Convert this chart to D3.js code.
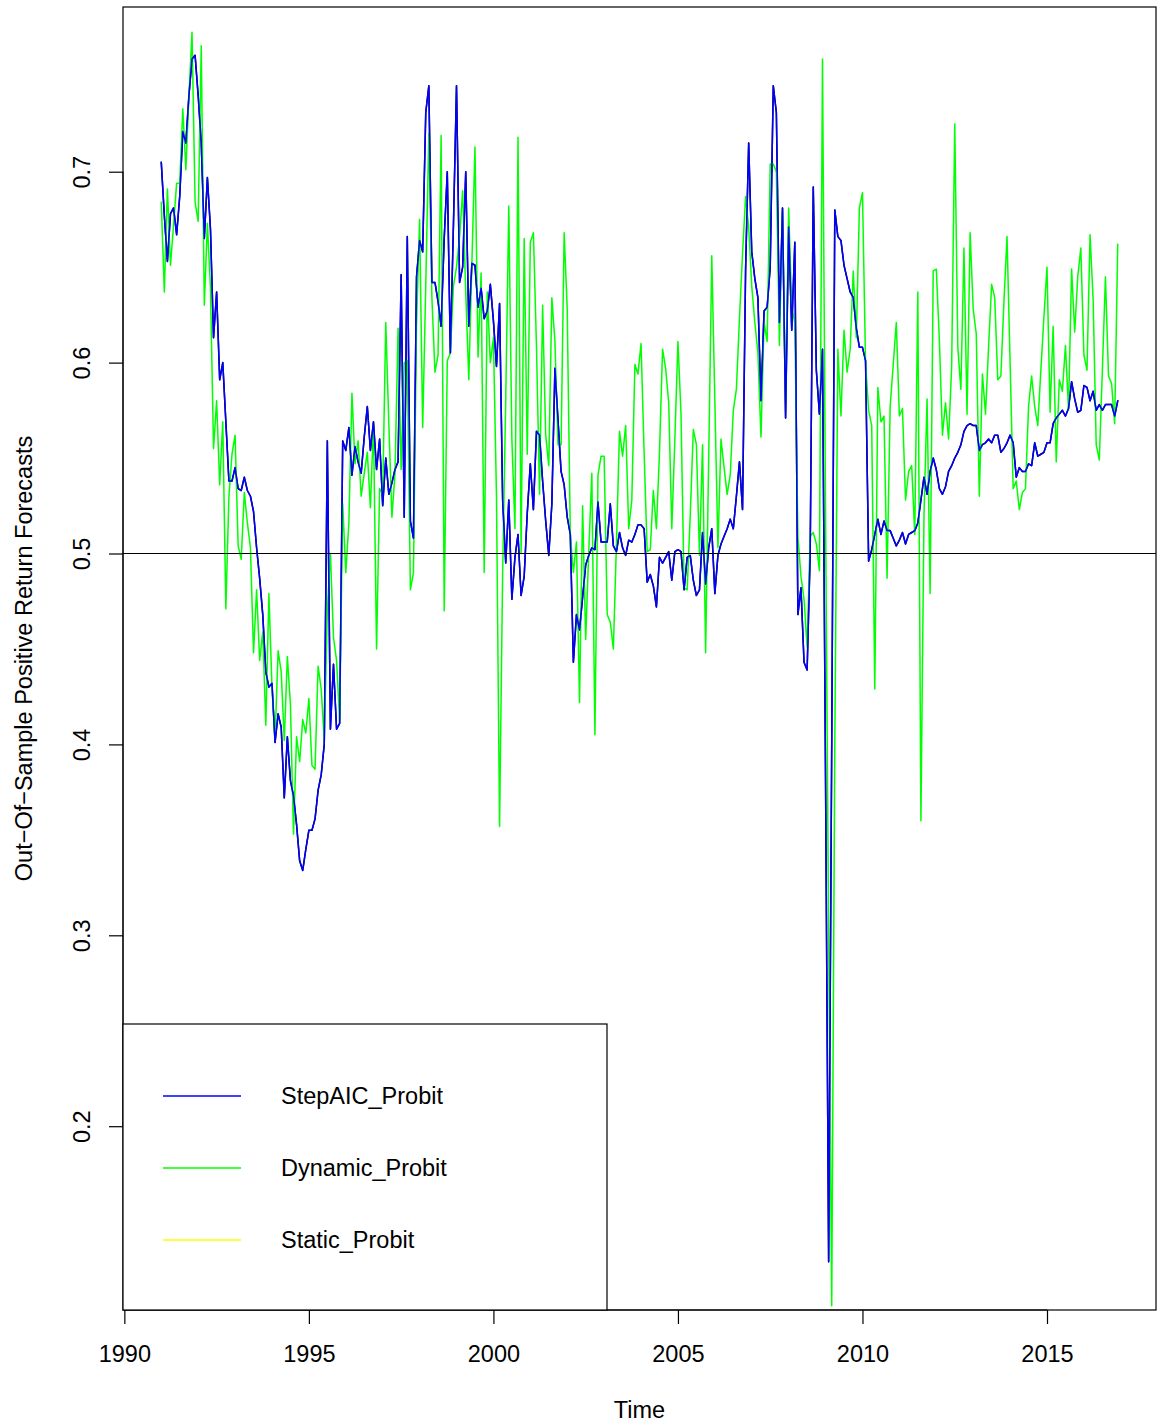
<!DOCTYPE html>
<html>
<head>
<meta charset="utf-8">
<script src="https://cdn.jsdelivr.net/npm/d3@7"></script>
<style>
  html, body { margin: 0; padding: 0; background: #ffffff; }
  svg { display: block; }
  text { font-family: "Liberation Sans", Arial, Helvetica, sans-serif; fill: #000; }
</style>
</head>
<body>
<svg id="chart" width="1160" height="1425"></svg>
<script>
// Monthly out-of-sample forecasts, Jan 1991 .. Dec 2016 (12 values per row = one year)
const startYear = 1991;
const perYear = 12;

const stepAicProbit = [
  0.705,0.677,0.653,0.678,0.681,0.667,0.687,0.721,0.715,0.740,0.759,0.761,
  0.740,0.715,0.665,0.697,0.670,0.613,0.637,0.591,0.600,0.569,0.538,0.538,
  0.545,0.534,0.533,0.540,0.533,0.530,0.522,0.503,0.487,0.468,0.438,0.430,
  0.432,0.401,0.416,0.409,0.372,0.404,0.381,0.373,0.358,0.339,0.334,0.345,
  0.355,0.355,0.361,0.376,0.384,0.400,0.559,0.408,0.442,0.408,0.411,0.559,
  0.554,0.566,0.541,0.556,0.548,0.542,0.561,0.577,0.554,0.569,0.544,0.560,
  0.525,0.550,0.531,0.537,0.544,0.548,0.646,0.519,0.666,0.517,0.508,0.645,
  0.664,0.658,0.731,0.745,0.642,0.642,0.632,0.619,0.665,0.700,0.605,0.672,
  0.745,0.642,0.650,0.700,0.619,0.652,0.651,0.629,0.639,0.623,0.627,0.641,
  0.622,0.598,0.631,0.528,0.495,0.528,0.476,0.498,0.510,0.478,0.488,0.521,
  0.547,0.523,0.564,0.562,0.538,0.517,0.499,0.526,0.597,0.570,0.543,0.536,
  0.519,0.510,0.443,0.468,0.460,0.477,0.494,0.499,0.503,0.502,0.527,0.506,
  0.506,0.506,0.526,0.504,0.501,0.511,0.503,0.499,0.507,0.506,0.510,0.515,
  0.515,0.513,0.485,0.489,0.483,0.472,0.498,0.495,0.498,0.501,0.486,0.501,
  0.502,0.501,0.481,0.498,0.499,0.486,0.478,0.481,0.511,0.484,0.503,0.513,
  0.479,0.499,0.505,0.509,0.513,0.518,0.513,0.530,0.548,0.523,0.649,0.715,
  0.658,0.644,0.634,0.580,0.627,0.629,0.650,0.745,0.731,0.621,0.681,0.571,
  0.671,0.617,0.663,0.468,0.482,0.443,0.439,0.500,0.692,0.596,0.573,0.607,
  0.380,0.129,0.400,0.680,0.666,0.664,0.651,0.644,0.637,0.634,0.618,0.608,
  0.608,0.601,0.496,0.502,0.510,0.518,0.510,0.517,0.512,0.512,0.508,0.504,
  0.507,0.511,0.505,0.510,0.511,0.512,0.516,0.528,0.540,0.531,0.543,0.550,
  0.544,0.534,0.531,0.535,0.543,0.546,0.550,0.553,0.557,0.564,0.567,0.568,
  0.567,0.567,0.554,0.557,0.558,0.560,0.558,0.562,0.562,0.553,0.555,0.558,
  0.562,0.558,0.540,0.545,0.543,0.543,0.547,0.546,0.558,0.551,0.552,0.553,
  0.558,0.558,0.568,0.571,0.573,0.575,0.572,0.576,0.590,0.581,0.574,0.575,
  0.588,0.587,0.580,0.585,0.575,0.578,0.575,0.578,0.578,0.578,0.572,0.580
];

const dynamicProbit = [
  0.684,0.637,0.691,0.651,0.672,0.694,0.694,0.733,0.701,0.740,0.773,0.684,
  0.674,0.766,0.630,0.673,0.639,0.555,0.580,0.536,0.569,0.471,0.530,0.552,
  0.562,0.504,0.497,0.532,0.516,0.503,0.448,0.481,0.444,0.459,0.410,0.479,
  0.430,0.403,0.449,0.438,0.402,0.446,0.421,0.353,0.404,0.391,0.413,0.406,
  0.424,0.389,0.387,0.441,0.429,0.402,0.470,0.500,0.456,0.444,0.412,0.526,
  0.490,0.516,0.584,0.547,0.559,0.530,0.542,0.553,0.524,0.568,0.450,0.534,
  0.531,0.621,0.568,0.519,0.542,0.618,0.544,0.600,0.601,0.481,0.490,0.620,
  0.675,0.566,0.640,0.720,0.634,0.595,0.604,0.719,0.470,0.601,0.605,0.640,
  0.650,0.666,0.690,0.637,0.591,0.652,0.713,0.603,0.647,0.490,0.637,0.600,
  0.613,0.530,0.357,0.490,0.580,0.682,0.560,0.513,0.718,0.500,0.665,0.552,
  0.663,0.668,0.609,0.531,0.630,0.562,0.546,0.634,0.611,0.557,0.557,0.668,
  0.628,0.510,0.490,0.506,0.422,0.525,0.455,0.501,0.542,0.405,0.541,0.551,
  0.551,0.468,0.464,0.450,0.505,0.564,0.551,0.567,0.513,0.528,0.599,0.594,
  0.610,0.553,0.501,0.502,0.533,0.513,0.553,0.607,0.597,0.579,0.513,0.560,
  0.611,0.573,0.482,0.481,0.520,0.565,0.557,0.499,0.557,0.448,0.550,0.656,
  0.580,0.503,0.560,0.545,0.531,0.541,0.575,0.586,0.623,0.657,0.687,0.671,
  0.640,0.621,0.605,0.561,0.621,0.611,0.704,0.704,0.700,0.609,0.679,0.580,
  0.681,0.629,0.621,0.509,0.488,0.476,0.451,0.509,0.511,0.505,0.491,0.759,
  0.520,0.300,0.106,0.400,0.607,0.572,0.617,0.595,0.607,0.648,0.613,0.681,
  0.689,0.600,0.575,0.567,0.429,0.587,0.569,0.572,0.487,0.577,0.599,0.621,
  0.572,0.576,0.528,0.543,0.546,0.510,0.637,0.360,0.520,0.581,0.479,0.648,
  0.649,0.612,0.562,0.579,0.560,0.598,0.725,0.608,0.586,0.660,0.573,0.668,
  0.628,0.615,0.530,0.594,0.573,0.608,0.641,0.634,0.591,0.593,0.632,0.666,
  0.600,0.534,0.538,0.523,0.532,0.534,0.577,0.593,0.577,0.567,0.596,0.624,
  0.650,0.574,0.619,0.548,0.591,0.585,0.609,0.575,0.649,0.616,0.645,0.660,
  0.604,0.596,0.667,0.633,0.557,0.549,0.596,0.645,0.593,0.589,0.568,0.662
];

const xTickValues = [1990, 1995, 2000, 2005, 2010, 2015];
const yTickValues = [0.2, 0.3, 0.4, 0.5, 0.6, 0.7];
const referenceLevel = 0.5;
const legendLabels = ["StepAIC_Probit", "Dynamic_Probit", "Static_Probit"];
const legendColors = ["#0000ff", "#00ff00", "#ffff00"];
const xTitle = "Time";
const yTitle = "Out\u2212Of\u2212Sample Positive Return Forecasts";

// ---- layout ----
const W = 1160, H = 1425;
const plot = { left: 123, right: 1156, top: 7, bottom: 1310 };
const fontSize = 23.5;
const tickLen = 14;

const svg = d3.select("#chart");
svg.append("rect").attr("width", W).attr("height", H).attr("fill", "#fff");

const timeOf = i => startYear + i / perYear;
const blueSeries = stepAicProbit.map((v, i) => ({ t: timeOf(i), v }));
const greenSeries = dynamicProbit.map((v, i) => ({ t: timeOf(i), v }));

// axis ranges padded by 4% on each side, limits taken from the first series
function padded(ext) {
  const d = (ext[1] - ext[0]) * 0.04;
  return [ext[0] - d, ext[1] + d];
}
const x = d3.scaleLinear()
  .domain(padded(d3.extent(blueSeries, d => d.t)))
  .range([plot.left, plot.right]);
const y = d3.scaleLinear()
  .domain(padded(d3.extent(stepAicProbit)))
  .range([plot.bottom, plot.top]);

svg.append("clipPath").attr("id", "plotClip")
  .append("rect")
  .attr("x", plot.left).attr("y", plot.top)
  .attr("width", plot.right - plot.left).attr("height", plot.bottom - plot.top);

const line = d3.line().x(d => x(d.t)).y(d => y(d.v));
const series = svg.append("g").attr("clip-path", "url(#plotClip)");

// base series drawn in black, then the coloured forecasts over it
series.append("path").datum(blueSeries)
  .attr("d", line).attr("fill", "none").attr("stroke", "#000")
  .attr("stroke-width", 1.5).attr("stroke-linejoin", "round").attr("stroke-linecap", "round");
series.append("path").datum(greenSeries)
  .attr("d", line).attr("fill", "none").attr("stroke", legendColors[1])
  .attr("stroke-width", 1.5).attr("stroke-linejoin", "round").attr("stroke-linecap", "round");
series.append("path").datum(blueSeries)
  .attr("d", line).attr("fill", "none").attr("stroke", legendColors[0])
  .attr("stroke-width", 1.5).attr("stroke-linejoin", "round").attr("stroke-linecap", "round");

// horizontal reference line
svg.append("line")
  .attr("x1", plot.left).attr("x2", plot.right)
  .attr("y1", y(referenceLevel)).attr("y2", y(referenceLevel))
  .attr("stroke", "#000").attr("stroke-width", 1.2);

// ---- axes ----
const xAxis = svg.append("g")
  .attr("transform", `translate(0,${plot.bottom})`)
  .call(d3.axisBottom(x).tickValues(xTickValues).tickFormat(d3.format("d")).tickSize(tickLen));
xAxis.select(".domain")
  .attr("d", `M${x(xTickValues[0])},0H${x(xTickValues[xTickValues.length - 1])}`)
  .attr("stroke", "#000");
xAxis.selectAll(".tick line").attr("stroke", "#000").attr("stroke-width", 1.2);
xAxis.selectAll(".tick text")
  .attr("y", 44).attr("dy", null)
  .attr("dominant-baseline", "central")
  .style("font-size", fontSize + "px")
  .style("font-family", '"Liberation Sans", Arial, sans-serif');

const yAxis = svg.append("g")
  .attr("transform", `translate(${plot.left},0)`)
  .call(d3.axisLeft(y).tickValues(yTickValues).tickFormat(d3.format(".1f")).tickSize(tickLen));
yAxis.select(".domain")
  .attr("d", `M0,${y(yTickValues[0])}V${y(yTickValues[yTickValues.length - 1])}`)
  .attr("stroke", "#000");
yAxis.selectAll(".tick line").attr("stroke", "#000").attr("stroke-width", 1.2);
yAxis.selectAll(".tick text")
  .attr("x", 0).attr("dy", null)
  .attr("transform", "translate(-41,0) rotate(-90)")
  .attr("text-anchor", "middle")
  .attr("dominant-baseline", "central")
  .style("font-size", fontSize + "px")
  .style("font-family", '"Liberation Sans", Arial, sans-serif');

// plot frame
svg.append("rect")
  .attr("x", plot.left).attr("y", plot.top)
  .attr("width", plot.right - plot.left).attr("height", plot.bottom - plot.top)
  .attr("fill", "none").attr("stroke", "#000").attr("stroke-width", 1.2);

// axis titles
svg.append("text")
  .attr("x", (plot.left + plot.right) / 2).attr("y", 1410)
  .attr("text-anchor", "middle").attr("dominant-baseline", "central")
  .style("font-size", fontSize + "px")
  .text(xTitle);
svg.append("text")
  .attr("transform", `translate(24,${(plot.top + plot.bottom) / 2}) rotate(-90)`)
  .attr("text-anchor", "middle").attr("dominant-baseline", "central")
  .style("font-size", fontSize + "px")
  .text(yTitle);

// ---- legend ----
const legend = { left: 123, top: 1024, right: 607, bottom: 1310, firstRow: 1096, rowGap: 72 };
svg.append("rect")
  .attr("x", legend.left).attr("y", legend.top)
  .attr("width", legend.right - legend.left).attr("height", legend.bottom - legend.top)
  .attr("fill", "#fff").attr("stroke", "#000").attr("stroke-width", 1.2);
const rows = svg.append("g").selectAll("g")
  .data(legendLabels)
  .join("g")
  .attr("transform", (d, i) => `translate(0,${legend.firstRow + i * legend.rowGap})`);
rows.append("line")
  .attr("x1", 163).attr("x2", 241).attr("y1", 0).attr("y2", 0)
  .attr("stroke", (d, i) => legendColors[i]).attr("stroke-width", 1.5);
rows.append("text")
  .attr("x", 281).attr("y", 0)
  .attr("dominant-baseline", "central")
  .style("font-size", fontSize + "px")
  .text(d => d);
</script>
</body>
</html>
